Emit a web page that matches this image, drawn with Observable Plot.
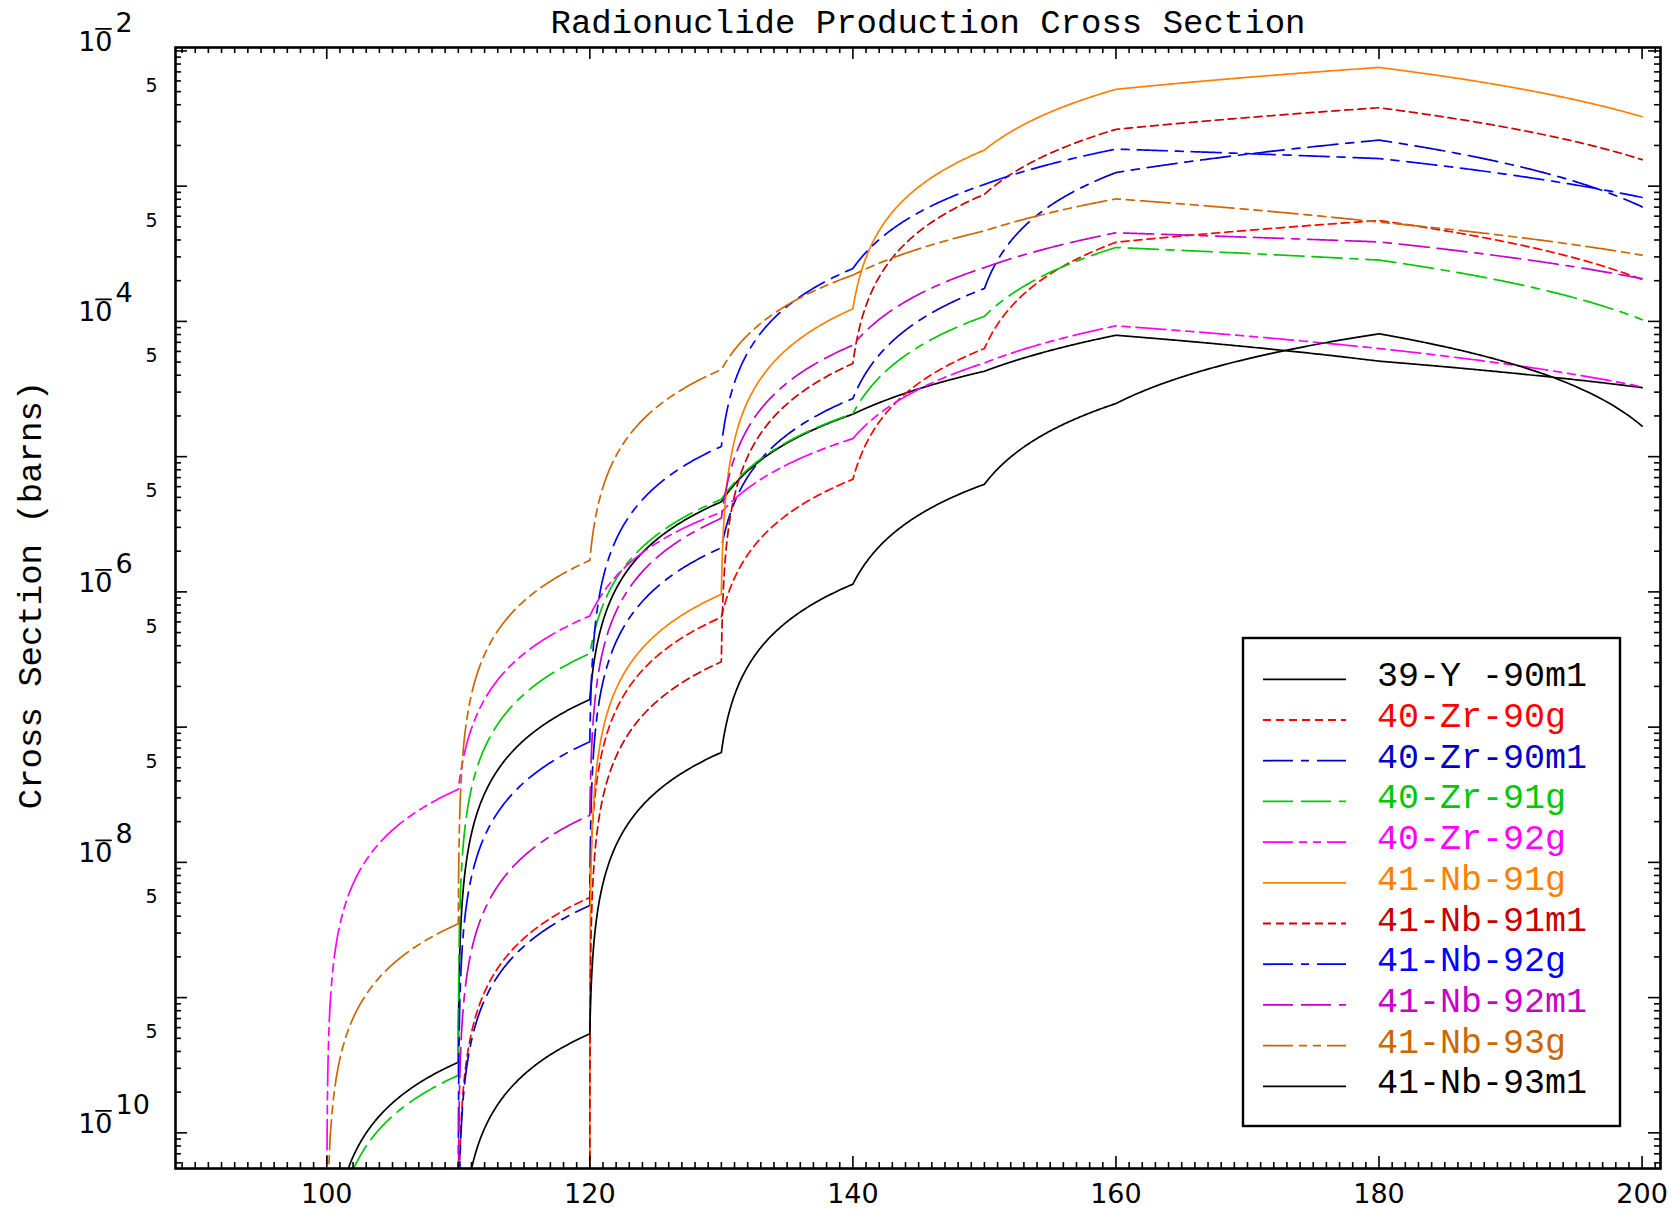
<!DOCTYPE html>
<html>
<head>
<meta charset="utf-8">
<script src="https://cdn.jsdelivr.net/npm/d3@7"></script>
<script src="https://cdn.jsdelivr.net/npm/@observablehq/plot@0.6"></script>
<style>
  body { margin: 0; background: #fff; }
  #wrap { position: relative; width: 1673px; height: 1211px; overflow: hidden; background: #fff; }
  #chart { position: absolute; left: 0; top: 0; }
  #legend { position: absolute; left: 0; top: 0; pointer-events: none; }
</style>
</head>
<body>
<div id="wrap"><div id="chart"></div></div>
<script>
// ---------------- data (cross sections in barns) ----------------
const energies = [100, 110, 120, 130, 140, 150, 160, 180, 200];
// null = no point tabulated, 0 = threshold (zero cross section)
const y90m1  = [0,    3.33e-10, 1.6e-7,   4.64e-6, 2.06e-5, 4.28e-5, 7.9e-5,  5.08e-5, 3.24e-5];
const zr90g  = [null, 0,        5.5e-9,   6.5e-7,  6.8e-6,  6.3e-5,  3.85e-4, 5.57e-4, 2.04e-4];
const zr90m1 = [null, 0,        4.8e-9,   2.12e-6, 2.69e-5, 1.75e-4, 1.26e-3, 2.19e-3, 7.03e-4];
const zr91g  = [0,    2.66e-10, 3.5e-7,   4.84e-6, 2.08e-5, 1.09e-4, 3.52e-4, 2.84e-4, 1.03e-4];
const zr92g  = [0,    3.47e-8,  6.64e-7,  3.88e-6, 1.36e-5, 4.93e-5, 9.27e-5, 6.3e-5,  3.28e-5];
const nb91g  = [null, null,     0,        9.6e-7,  1.24e-4, 1.85e-3, 5.2e-3,  7.55e-3, 3.26e-3];
const nb91m1 = [null, null,     0,        3.04e-7, 4.88e-5, 8.7e-4,  2.63e-3, 3.8e-3,  1.57e-3];
const nb92g  = [null, 0,        7.8e-8,   1.19e-5, 2.46e-4, 1.03e-3, 1.88e-3, 1.6e-3,  8.25e-4];
const nb92m1 = [null, 0,        2.23e-8,  3.5e-6,  6.67e-5, 2.5e-4,  4.52e-4, 3.87e-4, 2.07e-4];
const nb93g  = [0,    3.52e-9,  1.71e-6,  4.4e-5,  2.2e-4,  4.67e-4, 8.05e-4, 5.42e-4, 3.09e-4];
const nb93m1 = [null, 0,        5.4e-10,  6.5e-8,  1.14e-6, 6.25e-6, 2.47e-5, 8.1e-5,  1.68e-5];

const seriesNames = ["39-Y -90m1", "40-Zr-90g", "40-Zr-90m1", "40-Zr-91g", "40-Zr-92g",
                     "41-Nb-91g", "41-Nb-91m1", "41-Nb-92g", "41-Nb-92m1", "41-Nb-93g", "41-Nb-93m1"];
const seriesValues = [y90m1, zr90g, zr90m1, zr91g, zr92g, nb91g, nb91m1, nb92g, nb92m1, nb93g, nb93m1];

// axis tick labels
const xLabels = [100, 120, 140, 160, 180, 200];
const xMinor = d3.range(89, 202);
const decadeExps = [-2, -3, -4, -5, -6, -7, -8, -9, -10, -11];
const labelledExps = [-2, -4, -6, -8, -10];
const fiveLabels = [5e-3, 5e-4, 5e-5, 5e-6, 5e-7, 5e-8, 5e-9, 5e-10];

const titleText = "Radionuclide Production Cross Section";
const yTitle = "Cross Section (barns)";

// ---------------- styles ----------------
const styles = [
  {color: "#000000", dash: null},
  {color: "#ff0000", dash: "8,5"},
  {color: "#0000c8", dash: "30,8,8,8"},
  {color: "#00c800", dash: "30,8,30,8,8,8"},
  {color: "#ff00ff", dash: "30,6,8,6,8,6"},
  {color: "#ff8000", dash: null},
  {color: "#c80000", dash: "8,5"},
  {color: "#0000ff", dash: "30,8,8,8"},
  {color: "#c800c8", dash: "30,8,30,8,8,8"},
  {color: "#cc6600", dash: "30,6,8,6,8,6"},
  {color: "#000000", dash: null}
];

// ---------------- layout ----------------
const W = 1673, H = 1211, mL = 175, mR = 13, mT = 47, mB = 43;
const X_DOMAIN = [88.5, 201.4], Y_DOMAIN = [5.45e-11, 1.06e-2];
const FW = W - mL - mR, FH = H - mT - mB;
const ZERO_ON_LOG = 1e-30; // a zero cross section placed far below the axis

// linear-linear interpolation between tabulated points, drawn on the log axis
const lo = Math.log10(Y_DOMAIN[0]), hi = Math.log10(Y_DOMAIN[1]);
const yTopPx = mT, yBotPx = H - mB;
const toVal = py => Math.pow(10, lo + (yBotPx - py) / (yBotPx - yTopPx) * (hi - lo));
const toPx = v => yBotPx - (Math.log10(v) - lo) / (hi - lo) * (yBotPx - yTopPx);
function linLinCurve(context) {
  let pts = [];
  return {
    areaStart() {}, areaEnd() {},
    lineStart() { pts = []; },
    point(x, y) { pts.push([+x, +y]); },
    lineEnd() {
      if (!pts.length) return;
      context.moveTo(pts[0][0], pts[0][1]);
      for (let k = 1; k < pts.length; k++) {
        const [x0, y0] = pts[k - 1], [x1, y1] = pts[k];
        const v0 = toVal(y0), v1 = toVal(y1);
        const N = 240;
        for (let i = 1; i <= N; i++) {
          const t = Math.pow(i / N, 3);
          context.lineTo(x0 + t * (x1 - x0), toPx(v0 + t * (v1 - v0)));
        }
      }
    }
  };
}

const seriesData = seriesNames.map((name, s) =>
  energies.map((e, i) => ({e, v: seriesValues[s][i]})).filter(d => d.v != null));

const yMajor = decadeExps.map(e => Math.pow(10, e)).filter(v => v >= Y_DOMAIN[0] && v <= Y_DOMAIN[1]);
const yMinor = [];
decadeExps.forEach(e => [2,3,4,5,6,7,8,9].forEach(m => {
  const v = m * Math.pow(10, e);
  if (v >= Y_DOMAIN[0] && v <= Y_DOMAIN[1]) yMinor.push(v);
}));
const xMajor = xLabels;
const xMin = xMinor.filter(v => !xMajor.includes(v) && v >= X_DOMAIN[0] && v <= X_DOMAIN[1]);

const tickStyle = {stroke: "black", strokeWidth: 1.6};

const marks = [
  // curves
  ...seriesData.map((data, s) => Plot.line(data, {
    x: "e", y: d => d.v > 0 ? d.v : ZERO_ON_LOG,
    stroke: styles[s].color, strokeWidth: 1.7,
    strokeDasharray: styles[s].dash, curve: linLinCurve, clip: true
  })),
  // x ticks bottom & top
  Plot.tickX(xMajor, {x: d => d, insetTop: FH - 12, ...tickStyle}),
  Plot.tickX(xMin, {x: d => d, insetTop: FH - 6, ...tickStyle}),
  Plot.tickX(xMajor, {x: d => d, insetBottom: FH - 12, ...tickStyle}),
  Plot.tickX(xMin, {x: d => d, insetBottom: FH - 6, ...tickStyle}),
  // y ticks left & right
  Plot.tickY(yMajor, {y: d => d, insetRight: FW - 12, ...tickStyle}),
  Plot.tickY(yMinor, {y: d => d, insetRight: FW - 6, ...tickStyle}),
  Plot.tickY(yMajor, {y: d => d, insetLeft: FW - 12, ...tickStyle}),
  Plot.tickY(yMinor, {y: d => d, insetLeft: FW - 6, ...tickStyle}),
  Plot.frame({stroke: "black", strokeWidth: 2.6}),
  // x labels
  Plot.text(xLabels, {x: d => d, frameAnchor: "bottom", dy: 15, lineAnchor: "top",
    text: d => String(d), fontSize: 27, fontFamily: "DejaVu Sans", fill: "black"}),
  // y labels: "10", an over-bar (the minus sign) and the exponent
  Plot.text(labelledExps, {y: e => Math.pow(10, e), frameAnchor: "left", dx: -63, lineAnchor: "bottom",
    textAnchor: "end", text: () => "10", fontSize: 27, fontFamily: "DejaVu Sans", fill: "black"}),
  Plot.vector(labelledExps, {y: e => Math.pow(10, e), frameAnchor: "left", dx: -72, dy: -22,
    length: 15, rotate: 90, anchor: "middle", shape: "spike", r: 0, stroke: "black", fill: "black", strokeWidth: 1.8}),
  Plot.text(labelledExps, {y: e => Math.pow(10, e), frameAnchor: "left", dx: -60, dy: -19, lineAnchor: "bottom",
    textAnchor: "start", text: e => String(-e), fontSize: 27, fontFamily: "DejaVu Sans", fill: "black"}),
  Plot.text(fiveLabels, {y: d => d, frameAnchor: "left", dx: -18, lineAnchor: "bottom",
    textAnchor: "end", text: () => "5", fontSize: 19, fontFamily: "DejaVu Sans", fill: "black"}),
  // title
  Plot.text([titleText], {frameAnchor: "top", dx: 10, dy: -15, lineAnchor: "bottom", text: d => d,
    fontSize: 34, fontFamily: "Liberation Mono", fill: "black"}),
  // y axis title
  Plot.text([yTitle], {frameAnchor: "left", dx: -135, dy: -13, rotate: -90, lineAnchor: "bottom",
    textAnchor: "middle", text: d => d, fontSize: 34, fontFamily: "Liberation Mono", fill: "black"})
];

const chart = Plot.plot({
  width: W, height: H,
  marginLeft: mL, marginRight: mR, marginTop: mT, marginBottom: mB,
  x: {domain: X_DOMAIN, axis: null},
  y: {type: "log", domain: Y_DOMAIN, axis: null},
  style: {background: "white", fontFamily: "DejaVu Sans", overflow: "visible"},
  marks
});
document.getElementById("chart").appendChild(chart);

// ---------------- legend (overlay) ----------------
const lg = d3.select("#wrap").append("svg").attr("id", "legend")
  .attr("width", W).attr("height", H);
lg.append("rect").attr("x", 1243).attr("y", 638).attr("width", 377).attr("height", 488)
  .attr("fill", "white").attr("stroke", "black").attr("stroke-width", 2.4);
seriesNames.forEach((name, i) => {
  const yy = 679.3 + i * 40.7;
  lg.append("line").attr("x1", 1263).attr("x2", 1346).attr("y1", yy).attr("y2", yy)
    .attr("stroke", styles[i].color).attr("stroke-width", 1.8)
    .attr("stroke-dasharray", styles[i].dash);
  lg.append("text").attr("x", 1377).attr("y", yy + 7)
    .attr("fill", styles[i].color).attr("font-family", "Liberation Mono")
    .attr("font-size", 35).attr("xml:space", "preserve").style("white-space", "pre")
    .text(name);
});
</script>
</body>
</html>
